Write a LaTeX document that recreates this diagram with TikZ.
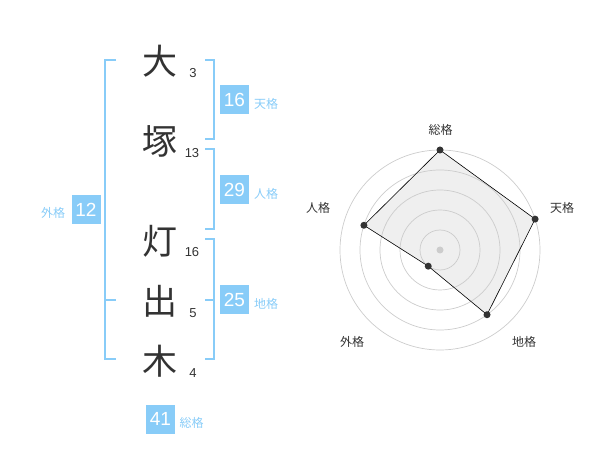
\documentclass[tikz,border=0pt]{standalone}
\usepackage{fontspec}
\setmainfont{Liberation Sans}
\newfontfamily\cjk{Noto Sans CJK JP}
\definecolor{brk}{HTML}{88CCF8}
\definecolor{boxc}{HTML}{88CCF8}
\definecolor{dk}{HTML}{333333}
\definecolor{ring}{HTML}{CCCCCC}
\definecolor{polyfill}{HTML}{EFEFEF}
\begin{document}
\begin{tikzpicture}[x=1pt,y=-1pt,
  kanji/.style={text=dk,font=\cjk\fontsize{35}{35}\selectfont,inner sep=0pt,anchor=center},
  strokes/.style={text=dk,font=\fontsize{13}{13}\selectfont,inner sep=0pt},
  valbox/.style={fill=boxc,text=white,minimum width=29pt,minimum height=29pt,inner sep=0pt,font=\fontsize{19}{19}\selectfont},
  kaku/.style={text=brk,font=\cjk\fontsize{12}{12}\selectfont,inner sep=0pt},
  bracket/.style={draw=brk,line width=2pt},
  radlab/.style={text=dk,font=\cjk\fontsize{12}{12}\selectfont,inner sep=0pt},
  ringline/.style={draw=ring,line width=0.7pt},
  dot/.style={circle,fill=dk,inner sep=0pt,minimum size=7pt}]
\useasboundingbox (0,0) rectangle (600,470);
% kanji
\node[kanji] (k1) at (160,61) {大};
\node[kanji] (k2) at (160,141) {塚};
\node[kanji] (k3) at (160,241) {灯};
\node[kanji] (k4) at (160,301) {出};
\node[kanji] (k5) at (160,361) {木};
\node[strokes] (s1) at (193,73) {3};
\node[strokes] (s2) at (192,153) {13};
\node[strokes] (s3) at (192,252) {16};
\node[strokes] (s4) at (193,313) {5};
\node[strokes] (s5) at (193,373) {4};
% brackets
\coordinate (la) at (116,60); \coordinate (lb) at (105,60);
\coordinate (lc) at (105,359); \coordinate (ld) at (116,359);
\coordinate (lm1) at (105,300); \coordinate (lm2) at (116,300);
\draw[bracket] (la) -- (lb) -- (lc) -- (ld);
\draw[bracket] (lm1) -- (lm2);
\coordinate (ta) at (205,60); \coordinate (tb) at (214,60);
\coordinate (tc) at (214,139); \coordinate (td) at (205,139);
\draw[bracket] (ta) -- (tb) -- (tc) -- (td);
\coordinate (ja) at (205,149); \coordinate (jb) at (214,149);
\coordinate (jc) at (214,229); \coordinate (jd) at (205,229);
\draw[bracket] (ja) -- (jb) -- (jc) -- (jd);
\coordinate (ca) at (205,239); \coordinate (cb) at (214,239);
\coordinate (cc) at (214,359); \coordinate (cd) at (205,359);
\coordinate (cm1) at (205,300); \coordinate (cm2) at (214,300);
\draw[bracket] (ca) -- (cb) -- (cc) -- (cd);
\draw[bracket] (cm1) -- (cm2);
% value boxes
\node[valbox] (b16) at (234.5,100) {16};
\node[kaku] (l16) at (266,104) {天格};
\node[valbox] (b29) at (234.5,190) {29};
\node[kaku] (l29) at (266,194) {人格};
\node[valbox] (b25) at (234.5,300) {25};
\node[kaku] (l25) at (266,304) {地格};
\node[valbox] (b12) at (86,210) {12};
\node[kaku] (l12) at (53,213) {外格};
\node[valbox] (b41) at (160.5,419) {41};
\node[kaku] (l41) at (191.5,423) {総格};
% radar
\begin{scope}[shift={(440,250)}]
  \coordinate (pS) at (-90:100);
  \coordinate (pT) at (-18:100);
  \coordinate (pC) at (54:80);
  \coordinate (pG) at (126:20);
  \coordinate (pJ) at (198:80);
  \fill[polyfill] (pS) -- (pT) -- (pC) -- (pG) -- (pJ) -- cycle;
  \foreach \r in {20,40,60,80,100} \draw[ringline] (0,0) circle[radius=\r pt];
  \draw[black,line width=0.6pt] (pS) -- (pT) -- (pC) -- (pG) -- (pJ) -- cycle;
  \node[circle,fill=ring,inner sep=0pt,minimum size=7pt] (ctr) at (0,0) {};
  \node[dot] (dS) at (pS) {};
  \node[dot] (dT) at (pT) {};
  \node[dot] (dC) at (pC) {};
  \node[dot] (dG) at (pG) {};
  \node[dot] (dJ) at (pJ) {};
\end{scope}
\node[radlab] (rS) at (440.5,130) {総格};
\node[radlab] (rT) at (562,208) {天格};
\node[radlab] (rC) at (524,342) {地格};
\node[radlab] (rG) at (352,342) {外格};
\node[radlab] (rJ) at (318,208) {人格};
\end{tikzpicture}
\end{document}
